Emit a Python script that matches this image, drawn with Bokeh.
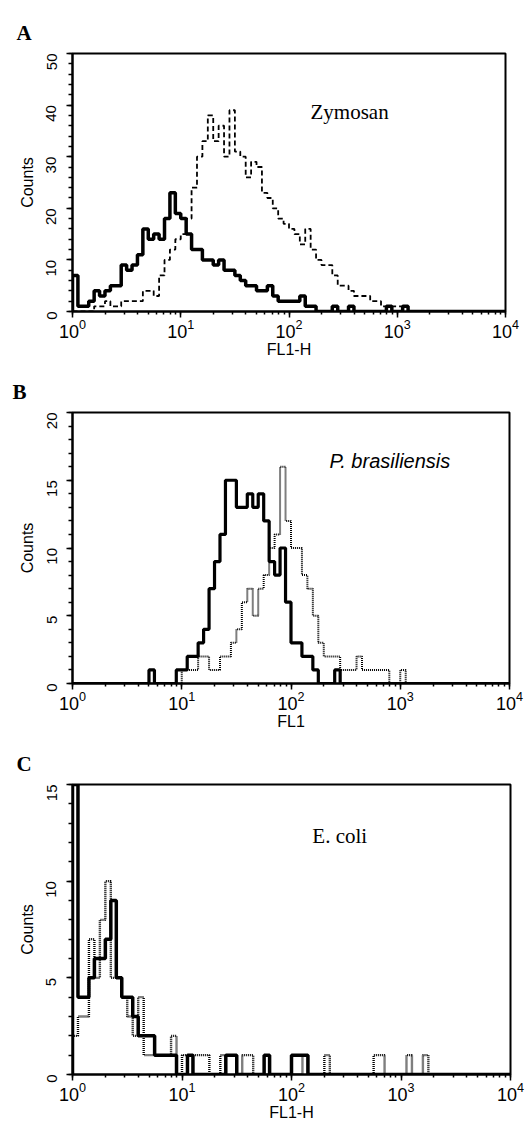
import math
import numpy as np
from bokeh.plotting import figure
from bokeh.layouts import column
from bokeh.models import Label, SingleIntervalTicker, LogTicker, Range1d
from bokeh.embed import file_html
from bokeh.resources import INLINE

# log10 width of one histogram bin: 80 bins cover 10^0 .. 10^4
BIN_LOG_WIDTH = 0.05

# ---- Panel A: Zymosan (counts per bin) ----
a_control = [7, 1, 1, 2, 4, 3, 4, 5, 5, 9,
             8, 9, 11, 16, 14, 15, 14, 18, 23, 19,
             18, 15, 12, 12, 10, 10, 9, 10, 8, 8,
             7, 6, 5, 5, 4, 4, 5, 3, 2, 2,
             2, 2, 3, 1, 1, 0, 0, 0, 1, 0,
             0, 1, 0, 0, 0, 0, 0, 0, 1, 0,
             0, 1, 0, 0, 0, 0, 0, 0, 0, 0,
             0, 0, 0, 0, 0, 0, 0, 0, 0, 0]
a_sample = [0, 0, 0, 0, 1, 1, 2, 1, 1, 2,
            2, 2, 2, 4, 4, 3, 7, 10, 12, 14,
            15, 18, 24, 30, 33, 38, 33, 36, 30, 39,
            31, 30, 26, 29, 28, 23, 22, 20, 18, 17,
            16, 15, 13, 16, 12, 10, 9, 9, 7, 5,
            5, 4, 3, 3, 3, 2, 2, 1, 1, 1,
            1, 1, 0, 0, 0, 0, 0, 0, 0, 0,
            0, 0, 0, 0, 0, 0, 0, 0, 0, 0]

# ---- Panel B: P. brasiliensis ----
b_control = [0, 0, 0, 0, 0, 0, 0, 0, 0, 0,
             0, 0, 0, 0, 1, 0, 0, 0, 0, 1,
             1, 2, 2, 3, 4, 7, 9, 11, 15, 15,
             13, 13, 14, 13, 14, 12, 9, 8, 10, 6,
             3, 3, 2, 2, 1, 0, 0, 0, 1, 0,
             0, 0, 0, 0, 0, 0, 0, 0, 0, 0,
             0, 0, 0, 0, 0, 0, 0, 0, 0, 0,
             0, 0, 0, 0, 0, 0, 0, 0, 0, 0]
b_sample = [0, 0, 0, 0, 0, 0, 0, 0, 0, 0,
            0, 0, 0, 0, 0, 0, 0, 0, 0, 0,
            1, 1, 1, 2, 2, 1, 1, 2, 2, 3,
            4, 6, 7, 5, 7, 8, 10, 11, 16, 12,
            10, 10, 8, 7, 5, 3, 2, 2, 2, 1,
            1, 1, 2, 1, 1, 1, 1, 1, 0, 0,
            1, 0, 0, 0, 0, 0, 0, 0, 0, 0,
            0, 0, 0, 0, 0, 0, 0, 0, 0, 0]

# ---- Panel C: E. coli ----
c_control = [15, 4, 4, 5, 6, 6, 7, 9, 5, 4,
             4, 3, 2, 2, 2, 1, 1, 1, 1, 0,
             0, 1, 0, 0, 0, 0, 0, 0, 1, 1,
             0, 0, 0, 0, 0, 1, 0, 0, 0, 0,
             1, 1, 1, 0, 0, 0, 0, 0, 0, 0,
             0, 0, 0, 0, 0, 0, 0, 0, 0, 0,
             0, 0, 0, 0, 0, 0, 0, 0, 0, 0,
             0, 0, 0, 0, 0, 0, 0, 0, 0, 0]
c_sample = [2, 3, 3, 7, 5, 8, 10, 5, 5, 4,
            3, 2, 4, 1, 1, 1, 1, 1, 2, 0,
            1, 1, 1, 1, 1, 0, 0, 1, 1, 1,
            0, 1, 1, 0, 0, 0, 0, 0, 0, 0,
            0, 0, 1, 0, 0, 0, 1, 0, 0, 0,
            0, 0, 0, 0, 0, 1, 1, 0, 0, 0,
            0, 1, 0, 0, 1, 0, 0, 0, 0, 0,
            0, 0, 0, 0, 0, 0, 0, 0, 0, 0]

SANS = "Liberation Sans"
SERIF = "Liberation Serif"


def step_xy(vals):
    edges = 10 ** (BIN_LOG_WIDTH * np.arange(len(vals) + 1))
    x = np.concatenate([[edges[0]], edges])
    y = np.concatenate([[0], np.asarray(vals, dtype=float), [0]])
    return x, y


def make_panel(letter, ymax, yint, xlabel, fw, fh, bl, br, bt, bb):
    p = figure(x_axis_type="log", x_range=Range1d(1, 1e4), y_range=Range1d(0, ymax),
               frame_width=fw, frame_height=fh,
               min_border_left=bl, min_border_right=br,
               min_border_top=bt, min_border_bottom=bb,
               output_backend="svg", toolbar_location=None)
    p.grid.visible = False
    p.outline_line_color = "black"
    p.outline_line_width = 2
    p.outline_line_alpha = 1
    p.background_fill_color = "white"
    p.border_fill_color = "white"

    p.title.text = letter
    p.title.align = "left"
    p.title.offset = 12 - bl
    p.title.text_font = SERIF
    p.title.text_font_style = "bold"
    p.title.text_font_size = "21px"
    p.title.text_color = "black"
    p.title.standoff = 18

    p.xaxis.ticker = LogTicker(mantissas=[1], num_minor_ticks=10)
    p.yaxis.ticker = SingleIntervalTicker(interval=yint, num_minor_ticks=5)
    for ax in (p.xaxis, p.yaxis):
        ax.axis_line_width = 2
        ax.axis_line_color = "black"
        ax.major_tick_in = 0
        ax.minor_tick_in = 0
        ax.major_tick_line_width = 1.5
        ax.minor_tick_line_width = 1.5
        ax.major_tick_line_color = "black"
        ax.minor_tick_line_color = "black"
        ax.major_label_text_font = SANS
        ax.major_label_text_color = "black"
        ax.axis_label_text_font = SANS
        ax.axis_label_text_font_style = "normal"
        ax.axis_label_text_color = "black"
        ax.axis_label_text_font_size = "16px"
    p.xaxis.major_tick_out = 6
    p.xaxis.minor_tick_out = 3
    p.xaxis.major_label_text_font_size = "18px"
    p.xaxis.major_label_standoff = 1
    p.xaxis.axis_label = xlabel
    p.xaxis.axis_label_standoff = 0
    p.yaxis.major_tick_out = 6
    p.yaxis.minor_tick_out = 4
    p.yaxis.major_label_orientation = math.pi / 2
    p.yaxis.major_label_text_font_size = "15px"
    p.yaxis.major_label_standoff = 15
    p.yaxis.axis_label = "Counts"
    p.yaxis.axis_label_standoff = 3
    return p


# ---------- A ----------
pa = make_panel("A", 50, 10, "FL1-H", 433, 258, 68, 24, 53, 55)
x, y = step_xy(a_control)
pa.step(x, y, mode="after", line_color="black", line_width=3.5)
x, y = step_xy(a_sample)
pa.step(x, y, mode="after", line_color="black", line_width=1.8, line_dash="5 3")
pa.add_layout(Label(x=158, y=36.4, text="Zymosan", text_font=SERIF,
                    text_font_size="21px", text_color="black"))

# ---------- B ----------
pb = make_panel("B", 20, 5, "FL1", 437, 271, 72, 16, 46, 55)
x, y = step_xy(b_control)
pb.step(x, y, mode="after", line_color="black", line_width=3.2)
x, y = step_xy(b_sample)
pb.step(x, y, mode="after", line_color="black", line_width=2, line_dash="1 1")
pb.add_layout(Label(x=225, y=15.6, text="P. brasiliensis", text_font=SANS,
                    text_font_style="italic", text_font_size="20px", text_color="black"))

# ---------- C ----------
pc = make_panel("C", 15, 5, "FL1-H", 438, 290, 68, 19, 46, 50)
x, y = step_xy(c_sample)
pc.step(x, y, mode="after", line_color="black", line_width=2.4, line_dash="1 1")
x, y = step_xy(c_control)
pc.step(x, y, mode="after", line_color="black", line_width=3.5)
pc.add_layout(Label(x=155, y=11.74, text="E. coli", text_font=SERIF,
                    text_font_size="21px", text_color="black"))

layout = column(pa, pb, pc, spacing=0)
open("out.html", "w").write(file_html(layout, INLINE))
